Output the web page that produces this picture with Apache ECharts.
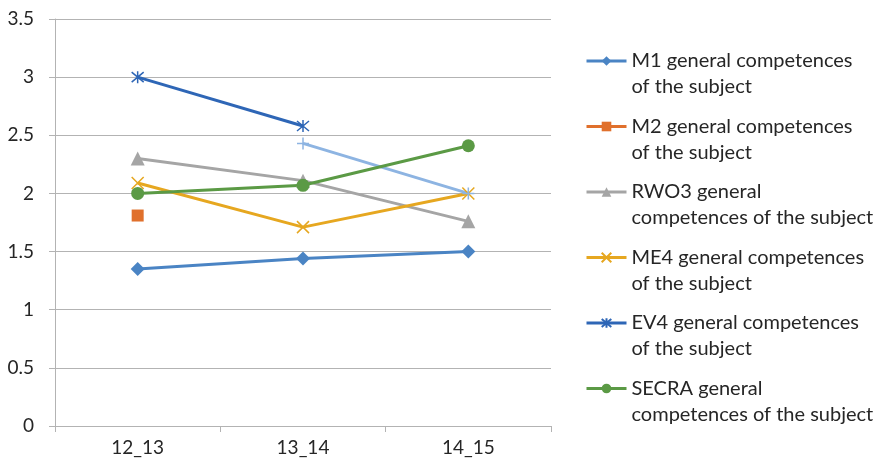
<!DOCTYPE html>
<html><head><meta charset="utf-8">
<script src="https://cdn.jsdelivr.net/npm/echarts@6/dist/echarts.min.js"></script>
<style>html,body{margin:0;padding:0;background:#fff}#c{width:884px;height:466px}</style>
</head><body><div id="c"></div>
<script>
const categories = ['12_13', '13_14', '14_15'];
const m1 = [1.35, 1.44, 1.50];
const m2 = [1.81, null, null];
const rwo3 = [2.30, 2.11, 1.76];
const me4 = [2.09, 1.71, 2.00];
const ev4 = [3.00, 2.58, null];
const extra = [null, 2.43, 2.00];
const secra = [2.00, 2.07, 2.41];
const legendLines = {
  'M1 general competences of the subject': ['M1 general competences', 'of the subject'],
  'M2 general competences of the subject': ['M2 general competences', 'of the subject'],
  'RWO3 general competences of the subject': ['RWO3 general', 'competences of the subject'],
  'ME4 general competences of the subject': ['ME4 general competences', 'of the subject'],
  'EV4 general competences of the subject': ['EV4 general competences', 'of the subject'],
  'SECRA general competences of the subject': ['SECRA general', 'competences of the subject']
};
const names = Object.keys(legendLines);
const FONT = 'Lato';
function mk(name, data, color, symbol, size, stroke) {
  return {
    name: name, type: 'line', data: data, symbol: symbol, symbolSize: size,
    showSymbol: true, connectNulls: false,
    lineStyle: { color: color, width: 3 },
    itemStyle: stroke ? { color: color, borderColor: color, borderWidth: 1.5 } : { color: color },
    emphasis: { disabled: true }, animation: false
  };
}
const X = 'path://M0,0L10,10M10,0L0,10';
const STAR = 'path://M0,0L10,10M10,0L0,10M5,-1L5,11';
const PLUS = 'path://M5,0L5,10M0,5L10,5';
const chart = echarts.init(document.getElementById('c'));
chart.setOption({
  animation: false,
  grid: { left: 55, right: 333, top: 19, bottom: 40, containLabel: false },
  legend: {
    data: names, orient: 'vertical', left: 580, top: 17,
    itemWidth: 40, itemHeight: 12, itemGap: -12.5,
    lineStyle: { width: 3 },
    textStyle: { fontFamily: FONT, fontSize: 20, color: '#262626', lineHeight: 26 },
    formatter: n => '\n' + legendLines[n].join('\n')
  },
  xAxis: {
    type: 'category', data: categories, boundaryGap: true,
    axisLine: { lineStyle: { color: '#b3b3b3', width: 1 } },
    axisTick: { show: true, length: 6, lineStyle: { color: '#b3b3b3' } },
    axisLabel: { fontFamily: FONT, fontSize: 19, color: '#262626', margin: 12 }
  },
  yAxis: {
    type: 'value', min: 0, max: 3.5, interval: 0.5,
    axisLine: { show: true, lineStyle: { color: '#b3b3b3', width: 1 } },
    axisTick: { show: true, length: 6, lineStyle: { color: '#b3b3b3' } },
    axisLabel: { fontFamily: FONT, fontSize: 19, color: '#262626', margin: 21 },
    splitLine: { lineStyle: { color: '#b3b3b3', width: 1 } }
  },
  series: [
    mk(names[0], m1, '#4a84c4', 'diamond', 14),
    mk(names[1], m2, '#e0702c', 'rect', 12),
    mk(names[2], rwo3, '#a5a5a5', 'triangle', 14),
    mk(names[3], me4, '#e6a720', X, 12, true),
    mk(names[4], ev4, '#2e66b6', STAR, 12, true),
    mk('EV4 general competences of the subject (cont.)', extra, '#8db4e2', PLUS, 12, true),
    mk(names[5], secra, '#5b9a45', 'circle', 13)
  ]
});
</script></body></html>
